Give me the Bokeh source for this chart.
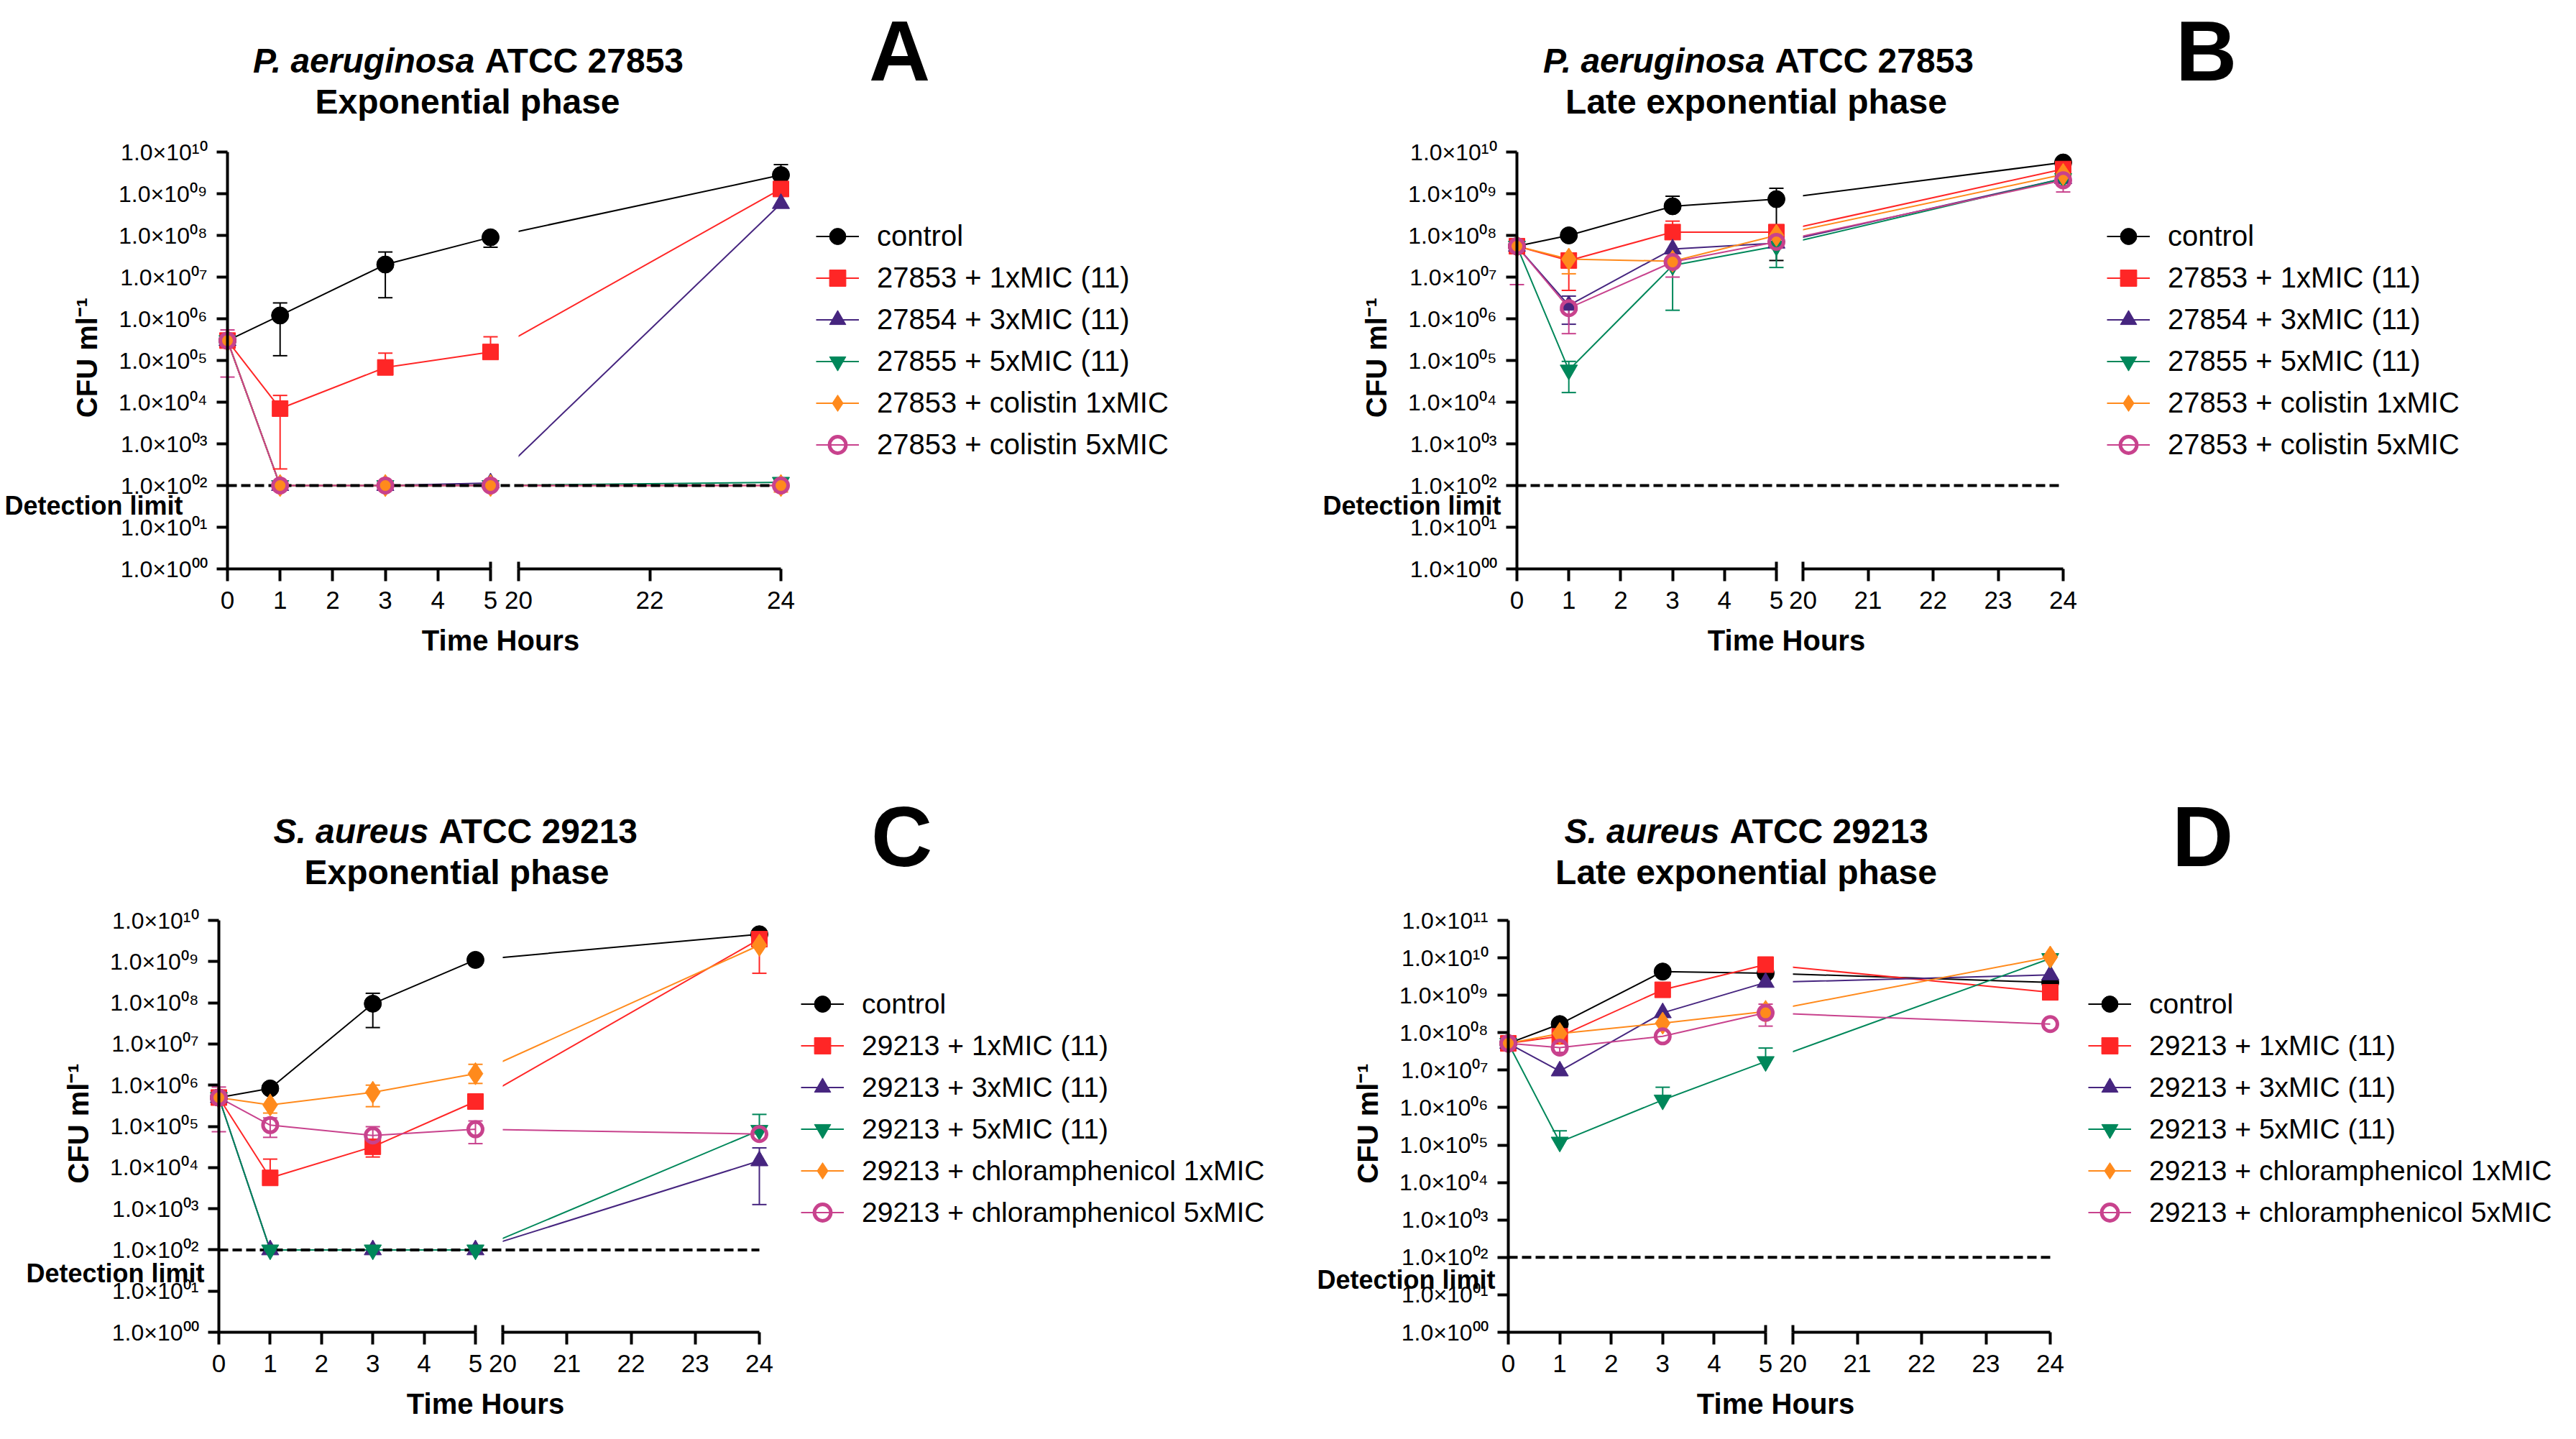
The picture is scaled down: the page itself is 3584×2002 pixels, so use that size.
import numpy as np
from bokeh.plotting import figure
from bokeh.models import (Range1d, FixedTicker, Label, Legend, LegendItem, LinearAxis,
                          ColumnDataSource, CustomJSTickFormatter)
from bokeh.layouts import row, column
from bokeh.embed import file_html
from bokeh.resources import INLINE

# ---------------- data ----------------
T_HOURS = [0, 1, 3, 5, 24]
DETECTION_LIMIT = 1e2

X_TICKS_A = [0, 1, 2, 3, 4, 5, 20, 22, 24]
X_TICKS_BCD = [0, 1, 2, 3, 4, 5, 20, 21, 22, 23, 24]
Y_EXP_ABC = list(range(0, 11))
Y_EXP_D = list(range(0, 12))

LEG_PA = ["control", "27853 + 1xMIC (11)", "27854 + 3xMIC (11)", "27855 + 5xMIC (11)",
          "27853 + colistin 1xMIC", "27853 + colistin 5xMIC"]
LEG_SA = ["control", "29213 + 1xMIC (11)", "29213 + 3xMIC (11)", "29213 + 5xMIC (11)",
          "29213 + chloramphenicol 1xMIC", "29213 + chloramphenicol 5xMIC"]

TITLE_A = ["P. aeruginosa", "ATCC 27853", "Exponential phase"]
TITLE_B = ["P. aeruginosa", "ATCC 27853", "Late exponential phase"]
TITLE_C = ["S. aureus", "ATCC 29213", "Exponential phase"]
TITLE_D = ["S. aureus", "ATCC 29213", "Late exponential phase"]
Y_LABEL = "CFU ml⁻¹"
X_LABEL = "Time Hours"
DL_LABEL = "Detection limit"

# Panel A  (values, upper error, lower error; None = no bar)
A_control = [3.0e5, 1.2e6, 2.0e7, 9.0e7, 2.8e9]
A_control_hi = [None, 2.4e6, 4.0e7, 1.1e8, 5.0e9]
A_control_lo = [None, 1.3e5, 3.2e6, 5.2e7, None]
A_mic1 = [3.0e5, 7.0e3, 6.8e4, 1.6e5, 1.3e9]
A_mic1_hi = [None, 1.45e4, 1.5e5, 3.7e5, None]
A_mic1_lo = [None, 2.5e2, None, None, None]
A_mic3 = [3.0e5, 1.0e2, 1.0e2, 1.15e2, 5.8e8]
A_mic3_hi = [None, None, None, None, 1.6e9]
A_mic3_lo = [None, None, None, None, None]
A_mic5 = [3.0e5, 1.0e2, 1.0e2, 1.0e2, 1.2e2]
A_mic5_hi = [None, None, None, None, 1.4e2]
A_mic5_lo = [None, None, None, None, None]
A_ref1 = [3.0e5, 1.0e2, 1.0e2, 1.0e2, 1.0e2]
A_ref1_hi = [None, None, None, 1.3e2, None]
A_ref1_lo = [None, None, None, None, 7.0e1]
A_ref5 = [3.0e5, 1.0e2, 1.0e2, 1.0e2, 1.0e2]
A_ref5_hi = [5.4e5, None, None, None, None]
A_ref5_lo = [4.0e4, None, None, None, None]

# Panel B
B_control = [5.5e7, 1.0e8, 5.0e8, 7.4e8, 5.6e9]
B_control_hi = [None, None, 8.7e8, 1.35e9, None]
B_control_lo = [None, None, None, 2.5e7, None]
B_mic1 = [5.5e7, 2.5e7, 1.2e8, 1.2e8, 3.9e9]
B_mic1_hi = [None, None, 2.2e8, None, None]
B_mic1_lo = [None, 4.8e6, None, None, None]
B_mic3 = [5.5e7, 2.1e6, 4.7e7, 6.5e7, 2.3e9]
B_mic3_hi = [None, 3.5e6, None, None, None]
B_mic3_lo = [None, 7.4e5, None, None, None]
B_mic5 = [5.5e7, 5.9e4, 1.9e7, 5.5e7, 2.3e9]
B_mic5_hi = [None, 9.5e4, None, None, None]
B_mic5_lo = [None, 1.7e4, 1.6e6, 1.7e7, None]
B_ref1 = [5.5e7, 2.7e7, 2.4e7, 1.0e8, 2.9e9]
B_ref1_hi = [None, None, None, None, None]
B_ref1_lo = [None, 1.2e7, None, None, None]
B_ref5 = [5.5e7, 1.8e6, 2.3e7, 7.0e7, 2.1e9]
B_ref5_hi = [8.0e7, None, None, None, None]
B_ref5_lo = [6.6e6, 4.4e5, 1.0e7, None, 1.1e9]

# Panel C
C_control = [5.0e5, 8.3e5, 9.5e7, 1.1e9, 4.6e9]
C_control_hi = [None, 1.0e6, 1.7e8, None, None]
C_control_lo = [None, None, 2.5e7, None, None]
C_mic1 = [5.0e5, 5.6e3, 3.2e4, 4.0e5, 3.5e9]
C_mic1_hi = [None, 1.6e4, None, None, None]
C_mic1_lo = [None, None, 1.8e4, None, 5.2e8]
C_mic3 = [5.0e5, 1.0e2, 1.0e2, 1.0e2, 1.45e4]
C_mic3_hi = [None, None, None, None, 3.0e4]
C_mic3_lo = [None, None, None, None, 1.26e3]
C_mic5 = [5.0e5, 1.0e2, 1.0e2, 1.0e2, 8.0e4]
C_mic5_hi = [None, None, None, None, 1.95e5]
C_mic5_lo = [None, None, None, None, None]
C_ref1 = [5.0e5, 3.3e5, 6.7e5, 1.9e6, 2.5e9]
C_ref1_hi = [None, None, 1.0e6, 3.2e6, None]
C_ref1_lo = [None, 2.1e5, 3.0e5, 1.1e6, None]
C_ref5 = [5.0e5, 1.07e5, 6.0e4, 8.5e4, 6.5e4]
C_ref5_hi = [9.0e5, 1.6e5, 9.8e4, 1.35e5, None]
C_ref5_lo = [7.4e4, 5.4e4, 3.1e4, 3.8e4, None]

# Panel D
D_control = [5.2e7, 1.7e8, 4.3e9, 3.9e9, 2.2e9]
D_control_hi = [None, None, None, None, None]
D_control_lo = [None, None, None, None, None]
D_mic1 = [5.2e7, 8.0e7, 1.4e9, 6.6e9, 1.2e9]
D_mic1_hi = [None, None, None, None, None]
D_mic1_lo = [None, None, None, None, None]
D_mic3 = [5.2e7, 9.5e6, 3.4e8, 2.2e9, 3.5e9]
D_mic3_hi = [None, None, None, None, None]
D_mic3_lo = [None, None, None, None, None]
D_mic5 = [5.2e7, 1.2e5, 1.6e6, 1.7e7, 9.6e9]
D_mic5_hi = [None, 2.4e5, 3.5e6, 3.9e7, None]
D_mic5_lo = [None, None, None, None, None]
D_ref1 = [5.2e7, 9.5e7, 1.8e8, 3.7e8, 1.05e10]
D_ref1_hi = [None, None, None, None, None]
D_ref1_lo = [None, None, None, None, None]
D_ref5 = [5.2e7, 4.0e7, 8.0e7, 3.4e8, 1.7e8]
D_ref5_hi = [None, None, None, 5.8e8, None]
D_ref5_lo = [None, 3.0e7, None, 1.5e8, None]

# ---------------- styles ----------------
FONT = "Liberation Sans"
COLORS = ["#000000", "#ff2626", "#46257f", "#00875a", "#ff8a1c", "#c8428d"]
MARKERS = ["circle", "square", "triangle", "inverted_triangle", "diamond", "circle"]
SIZES = [24, 22, 24, 24, 31, 20]
FILL_ALPHA = [1, 1, 1, 1, 1, 0]
MARKER_LW = [1, 1, 1, 1, 1, 5]

SUP = str.maketrans("0123456789", "⁰¹²³⁴⁵⁶⁷⁸⁹")

# geometry of each panel (pixel positions on the page)
GA = dict(ox=8, oy=8, W=1790, H=1000, ax=324, t5=690, t20=729, t24=1094, ytop=219, ybot=799,
          tmid=668, tcx=658, ty1=92, ty2=149, lx=1259, ly=78, dlx=14, dly=711, leg_x=1143, leg_y=336,
          leg_fs="40px")
GB = dict(ox=1798, oy=8, W=1778, H=1000, ax=2118, t5=2479, t20=2516, t24=2878, ytop=219, ybot=799,
          tmid=2463, tcx=2451, ty1=92, ty2=149, lx=3077, ly=78, dlx=1848, dly=711, leg_x=2939, leg_y=336,
          leg_fs="40px")
GC = dict(ox=8, oy=1008, W=1790, H=986, ax=312, t5=669, t20=707, t24=1064, ytop=1288, ybot=1861,
          tmid=604, tcx=643, ty1=1164, ty2=1221, lx=1262, ly=1171, dlx=44, dly=1779, leg_x=1122, leg_y=1404,
          leg_fs="39px")
GD = dict(ox=1798, oy=1008, W=1778, H=986, ax=2106, t5=2464, t20=2502, t24=2860, ytop=1288, ybot=1861,
          tmid=2400, tcx=2437, ty1=1164, ty2=1221, lx=3072, ly=1171, dlx=1840, dly=1788, leg_x=2913, leg_y=1404,
          leg_fs="39px")

NEAREST_JS = """
let best = 0; let d = Infinity;
for (let i = 0; i < pos.length; i++) {
  const a = islog ? Math.log10(pos[i]) : pos[i];
  const b = islog ? Math.log10(tick) : tick;
  const e = Math.abs(a - b);
  if (e < d) { d = e; best = i; }
}
return labels[best];
"""


def style_xaxis(a):
    a.axis_line_color = "black"
    a.axis_line_width = 4
    a.major_tick_line_width = 4
    a.major_tick_line_color = "black"
    a.major_tick_in = 0
    a.major_tick_out = 17
    a.minor_tick_line_color = None
    a.major_label_text_font = FONT
    a.major_label_text_font_size = "35px"
    a.major_label_text_color = "black"
    a.major_label_standoff = 14


def make_panel(g, series, leg_labels, xticks, yexps, titles, letter):
    s1 = (g["t5"] - g["ax"]) / 5.0
    s2 = (g["t24"] - g["t20"]) / 4.0
    sd = (g["ybot"] - g["ytop"]) / float(yexps[-1])

    def pos(t):
        t = np.asarray(t, dtype=float)
        return np.where(t <= 5, t, (g["t20"] - g["ax"]) / s1 + (t - 20.0) * s2 / s1)

    def xd(px):
        return (px - g["ax"]) / s1

    def yd(py):
        return 10 ** ((g["ybot"] - py) / sd)

    p = figure(width=g["W"], height=g["H"], title=None,
               x_range=Range1d(xd(g["ox"]), xd(g["ox"] + g["W"])),
               y_range=Range1d(yd(g["oy"] + g["H"]), yd(g["oy"])),
               y_axis_type="log", output_backend="svg", toolbar_location=None,
               min_border_left=0, min_border_right=0, min_border_top=0, min_border_bottom=0)
    p.outline_line_color = None
    p.xgrid.visible = False
    p.ygrid.visible = False
    p.background_fill_color = "white"
    p.border_fill_color = "white"

    p5, p20, p24 = float(pos(5)), float(pos(20)), float(pos(24))

    # x axis, left piece (0..5)
    left_ticks = [t for t in xticks if t <= 5]
    right_ticks = [t for t in xticks if t >= 20]
    xa = p.xaxis[0]
    lp = [float(v) for v in pos(left_ticks)]
    xa.ticker = FixedTicker(ticks=lp)
    xa.formatter = CustomJSTickFormatter(args=dict(pos=lp, labels=[str(t) for t in left_ticks], islog=False),
                                         code=NEAREST_JS)
    xa.fixed_location = 1.0
    xa.bounds = (xd(g["ax"] - 2), p5)
    style_xaxis(xa)

    # x axis, right piece (20..24)
    rp = [float(v) for v in pos(right_ticks)]
    xa2 = LinearAxis(ticker=FixedTicker(ticks=rp),
                     formatter=CustomJSTickFormatter(args=dict(pos=rp, labels=[str(t) for t in right_ticks],
                                                               islog=False), code=NEAREST_JS),
                     fixed_location=1.0, bounds=(p20, p24))
    style_xaxis(xa2)
    p.add_layout(xa2, "below")

    ya = p.yaxis[0]
    ytick_vals = [10.0 ** k for k in yexps]
    ya.ticker = FixedTicker(ticks=ytick_vals)
    ya.formatter = CustomJSTickFormatter(
        args=dict(pos=ytick_vals, labels=["1.0×10" + f"{k:02d}".translate(SUP) for k in yexps], islog=True),
        code=NEAREST_JS)
    ya.fixed_location = 0.0
    ya.bounds = (1.0, 10.0 ** yexps[-1])
    ya.axis_line_color = "black"
    ya.axis_line_width = 4
    ya.major_tick_line_width = 4
    ya.major_tick_in = 0
    ya.major_tick_out = 15
    ya.minor_tick_line_color = None
    ya.major_label_text_font = FONT
    ya.major_label_text_font_size = "32px"
    ya.major_label_text_color = "black"
    ya.major_label_standoff = 13

    xs = pos(T_HOURS)
    srcs = [ColumnDataSource(dict(x=xs, t=T_HOURS, y=vals)) for (vals, hi, lo) in series]

    # connecting lines
    line_rs = []
    for i, src in enumerate(srcs):
        line_rs.append(p.line("x", "y", source=src, line_color=COLORS[i], line_width=2))

    # hide lines inside the axis break
    p.quad(left=[p5], right=[p20], bottom=[1.0], top=[10.0 ** yexps[-1]],
           fill_color="white", line_color=None)

    # detection limit
    p.line(x=[0.0, p24], y=[DETECTION_LIMIT, DETECTION_LIMIT],
           line_color="black", line_width=4, line_dash="13 6")

    # break marks rising above the axis line
    p.segment(x0=[p5, p20], y0=[1.0, 1.0], x1=[p5, p20], y1=[yd(g["ybot"] - 10)] * 2,
              line_color="black", line_width=4)

    # error bars
    for i, (vals, hi, lo) in enumerate(series):
        bx, b0, b1, cx, cy = [], [], [], [], []
        for t, v, h, l in zip(T_HOURS, vals, hi, lo):
            if h is None and l is None:
                continue
            bx.append(t)
            b0.append(l if l is not None else v)
            b1.append(h if h is not None else v)
            if h is not None:
                cx.append(t); cy.append(h)
            if l is not None:
                cx.append(t); cy.append(l)
        if bx:
            p.segment(x0=pos(bx), y0=b0, x1=pos(bx), y1=b1, line_color=COLORS[i], line_width=2)
            p.scatter(x=pos(cx), y=cy, marker="dash", size=20, line_color=COLORS[i], line_width=2)

    # markers
    marker_rs = []
    for i, src in enumerate(srcs):
        marker_rs.append(p.scatter("x", "y", source=src, marker=MARKERS[i], size=SIZES[i],
                                   fill_color=COLORS[i], fill_alpha=FILL_ALPHA[i],
                                   line_color=COLORS[i], line_width=MARKER_LW[i]))

    # legend
    gh = 57
    sp = 1
    top = g["leg_y"] - gh / 2.0
    bottom = top + len(leg_labels) * gh + (len(leg_labels) - 1) * sp
    items = [LegendItem(label=lab, renderers=[line_rs[i], marker_rs[i]]) for i, lab in enumerate(leg_labels)]
    legend = Legend(items=items, location=(int(g["leg_x"] - g["ox"]), int(g["oy"] + g["H"] - bottom)),
                    label_text_font=FONT, label_text_font_size=g["leg_fs"], label_text_color="black",
                    glyph_width=60, glyph_height=gh, label_height=gh, spacing=sp,
                    label_standoff=25, padding=0, margin=0,
                    border_line_color=None, background_fill_alpha=0)
    p.add_layout(legend)

    # titles, letter, axis titles, detection limit
    def lab(px, py, text, size, style, align="center", angle=0.0):
        p.add_layout(Label(x=xd(px), y=yd(py), text=text, text_font=FONT, text_font_style=style,
                           text_font_size=size, text_color="black", text_align=align,
                           text_baseline="middle", angle=angle))

    lab(g["tmid"], g["ty1"], titles[0], "48px", "bold italic", "right")
    lab(g["tmid"] + 14, g["ty1"], titles[1], "48px", "bold", "left")
    lab(g["tcx"], g["ty2"], titles[2], "48px", "bold", "center")
    lab(g["lx"], g["ly"], letter, "118px", "bold", "center")
    lab(g["dlx"], g["dly"], DL_LABEL, "36px", "bold", "left")
    lab((g["ax"] + g["t24"]) / 2.0 - 5, g["ybot"] + 99, X_LABEL, "40px", "bold", "center")
    lab(g["ax"] - 196, (g["ytop"] + g["ybot"]) / 2.0 - 4, Y_LABEL, "40px", "bold", "center", np.pi / 2)
    return p


SER_A = [(A_control, A_control_hi, A_control_lo), (A_mic1, A_mic1_hi, A_mic1_lo),
         (A_mic3, A_mic3_hi, A_mic3_lo), (A_mic5, A_mic5_hi, A_mic5_lo),
         (A_ref1, A_ref1_hi, A_ref1_lo), (A_ref5, A_ref5_hi, A_ref5_lo)]
SER_B = [(B_control, B_control_hi, B_control_lo), (B_mic1, B_mic1_hi, B_mic1_lo),
         (B_mic3, B_mic3_hi, B_mic3_lo), (B_mic5, B_mic5_hi, B_mic5_lo),
         (B_ref1, B_ref1_hi, B_ref1_lo), (B_ref5, B_ref5_hi, B_ref5_lo)]
SER_C = [(C_control, C_control_hi, C_control_lo), (C_mic1, C_mic1_hi, C_mic1_lo),
         (C_mic3, C_mic3_hi, C_mic3_lo), (C_mic5, C_mic5_hi, C_mic5_lo),
         (C_ref1, C_ref1_hi, C_ref1_lo), (C_ref5, C_ref5_hi, C_ref5_lo)]
SER_D = [(D_control, D_control_hi, D_control_lo), (D_mic1, D_mic1_hi, D_mic1_lo),
         (D_mic3, D_mic3_hi, D_mic3_lo), (D_mic5, D_mic5_hi, D_mic5_lo),
         (D_ref1, D_ref1_hi, D_ref1_lo), (D_ref5, D_ref5_hi, D_ref5_lo)]

pA = make_panel(GA, SER_A, LEG_PA, X_TICKS_A, Y_EXP_ABC, TITLE_A, "A")
pB = make_panel(GB, SER_B, LEG_PA, X_TICKS_BCD, Y_EXP_ABC, TITLE_B, "B")
pC = make_panel(GC, SER_C, LEG_SA, X_TICKS_BCD, Y_EXP_ABC, TITLE_C, "C")
pD = make_panel(GD, SER_D, LEG_SA, X_TICKS_BCD, Y_EXP_D, TITLE_D, "D")

layout = column(row(pA, pB), row(pC, pD))
open("out.html", "w").write(file_html(layout, INLINE))
